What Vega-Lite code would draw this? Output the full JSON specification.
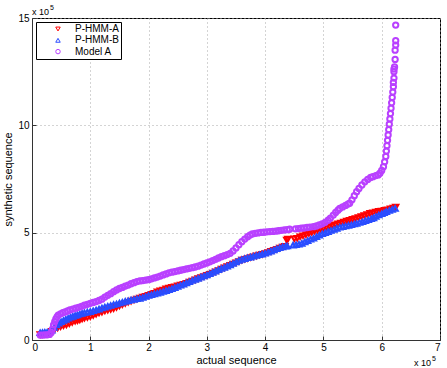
{
  "$schema": "https://vega.github.io/schema/vega-lite/v6.json",
  "width": 408,
  "height": 322,
  "autosize": {"type": "none"},
  "padding": {"left": 32, "top": 18, "right": 7, "bottom": 28},
  "background": "#ffffff",
  "config": {
    "font": "Liberation Sans",
    "view": {"stroke": "#000000", "strokeWidth": 1},
    "axis": {
      "labelFontSize": 10, "labelColor": "#000000", "labelFont": "Liberation Sans",
      "titleFontSize": 11, "titleFontWeight": "normal", "titleColor": "#000000", "titleFont": "Liberation Sans",
      "grid": true, "gridDash": [1, 3], "gridColor": "#a8a8a8", "gridWidth": 1,
      "domainColor": "#333333", "domainWidth": 1, "tickColor": "#333333", "tickSize": -4, "format": "d"
    },
    "legend": {"labelFont": "Liberation Sans"}
  },
  "layer": [
    {
      "data": {"values": [
        {"s":"P-HMM-A","x":0.14,"y":0.25},{"s":"P-HMM-A","x":0.18,"y":0.26},{"s":"P-HMM-A","x":0.22,"y":0.27},{"s":"P-HMM-A","x":0.26,"y":0.28},{"s":"P-HMM-A","x":0.30,"y":0.30},{"s":"P-HMM-A","x":0.34,"y":0.40},{"s":"P-HMM-A","x":0.39,"y":0.50},{"s":"P-HMM-A","x":0.44,"y":0.56},{"s":"P-HMM-A","x":0.49,"y":0.62},{"s":"P-HMM-A","x":0.54,"y":0.66},{"s":"P-HMM-A","x":0.59,"y":0.70},{"s":"P-HMM-A","x":0.64,"y":0.76},{"s":"P-HMM-A","x":0.69,"y":0.82},{"s":"P-HMM-A","x":0.74,"y":0.87},{"s":"P-HMM-A","x":0.78,"y":0.90},{"s":"P-HMM-A","x":0.82,"y":0.93},{"s":"P-HMM-A","x":0.86,"y":0.98},{"s":"P-HMM-A","x":0.90,"y":1.02},{"s":"P-HMM-A","x":0.95,"y":1.05},{"s":"P-HMM-A","x":1.00,"y":1.09},{"s":"P-HMM-A","x":1.05,"y":1.14},{"s":"P-HMM-A","x":1.10,"y":1.20},{"s":"P-HMM-A","x":1.15,"y":1.26},{"s":"P-HMM-A","x":1.20,"y":1.30},{"s":"P-HMM-A","x":1.25,"y":1.35},{"s":"P-HMM-A","x":1.30,"y":1.39},{"s":"P-HMM-A","x":1.35,"y":1.42},{"s":"P-HMM-A","x":1.40,"y":1.46},{"s":"P-HMM-A","x":1.45,"y":1.52},{"s":"P-HMM-A","x":1.50,"y":1.58},{"s":"P-HMM-A","x":1.55,"y":1.64},{"s":"P-HMM-A","x":1.60,"y":1.70},{"s":"P-HMM-A","x":1.65,"y":1.76},{"s":"P-HMM-A","x":1.70,"y":1.81},{"s":"P-HMM-A","x":1.75,"y":1.86},{"s":"P-HMM-A","x":1.80,"y":1.91},{"s":"P-HMM-A","x":1.85,"y":1.96},{"s":"P-HMM-A","x":1.90,"y":2.00},{"s":"P-HMM-A","x":1.95,"y":2.04},{"s":"P-HMM-A","x":2.00,"y":2.08},{"s":"P-HMM-A","x":2.05,"y":2.13},{"s":"P-HMM-A","x":2.10,"y":2.18},{"s":"P-HMM-A","x":2.15,"y":2.24},{"s":"P-HMM-A","x":2.20,"y":2.29},{"s":"P-HMM-A","x":2.25,"y":2.33},{"s":"P-HMM-A","x":2.30,"y":2.38},{"s":"P-HMM-A","x":2.35,"y":2.42},{"s":"P-HMM-A","x":2.40,"y":2.45},{"s":"P-HMM-A","x":2.45,"y":2.48},{"s":"P-HMM-A","x":2.50,"y":2.52},{"s":"P-HMM-A","x":2.55,"y":2.56},{"s":"P-HMM-A","x":2.60,"y":2.60},{"s":"P-HMM-A","x":2.65,"y":2.64},{"s":"P-HMM-A","x":2.70,"y":2.70},{"s":"P-HMM-A","x":2.75,"y":2.75},{"s":"P-HMM-A","x":2.80,"y":2.80},{"s":"P-HMM-A","x":2.85,"y":2.86},{"s":"P-HMM-A","x":2.90,"y":2.91},{"s":"P-HMM-A","x":2.95,"y":2.96},{"s":"P-HMM-A","x":3.00,"y":3.01},{"s":"P-HMM-A","x":3.05,"y":3.06},{"s":"P-HMM-A","x":3.10,"y":3.12},{"s":"P-HMM-A","x":3.15,"y":3.18},{"s":"P-HMM-A","x":3.20,"y":3.24},{"s":"P-HMM-A","x":3.25,"y":3.30},{"s":"P-HMM-A","x":3.30,"y":3.36},{"s":"P-HMM-A","x":3.35,"y":3.42},{"s":"P-HMM-A","x":3.40,"y":3.48},{"s":"P-HMM-A","x":3.45,"y":3.54},{"s":"P-HMM-A","x":3.50,"y":3.60},{"s":"P-HMM-A","x":3.55,"y":3.66},{"s":"P-HMM-A","x":3.60,"y":3.72},{"s":"P-HMM-A","x":3.65,"y":3.76},{"s":"P-HMM-A","x":3.70,"y":3.80},{"s":"P-HMM-A","x":3.75,"y":3.84},{"s":"P-HMM-A","x":3.80,"y":3.88},{"s":"P-HMM-A","x":3.85,"y":3.92},{"s":"P-HMM-A","x":3.90,"y":3.96},{"s":"P-HMM-A","x":3.95,"y":3.99},{"s":"P-HMM-A","x":4.00,"y":4.03},{"s":"P-HMM-A","x":4.05,"y":4.08},{"s":"P-HMM-A","x":4.10,"y":4.13},{"s":"P-HMM-A","x":4.15,"y":4.18},{"s":"P-HMM-A","x":4.20,"y":4.23},{"s":"P-HMM-A","x":4.25,"y":4.28},{"s":"P-HMM-A","x":4.30,"y":4.33},{"s":"P-HMM-A","x":4.34,"y":4.37},{"s":"P-HMM-A","x":4.37,"y":4.66},{"s":"P-HMM-A","x":4.39,"y":4.70},{"s":"P-HMM-A","x":4.50,"y":4.72},{"s":"P-HMM-A","x":4.55,"y":4.74},{"s":"P-HMM-A","x":4.60,"y":4.81},{"s":"P-HMM-A","x":4.65,"y":4.86},{"s":"P-HMM-A","x":4.70,"y":4.91},{"s":"P-HMM-A","x":4.75,"y":4.96},{"s":"P-HMM-A","x":4.80,"y":5.01},{"s":"P-HMM-A","x":4.85,"y":5.07},{"s":"P-HMM-A","x":4.90,"y":5.12},{"s":"P-HMM-A","x":4.95,"y":5.16},{"s":"P-HMM-A","x":5.00,"y":5.20},{"s":"P-HMM-A","x":5.05,"y":5.24},{"s":"P-HMM-A","x":5.10,"y":5.29},{"s":"P-HMM-A","x":5.15,"y":5.33},{"s":"P-HMM-A","x":5.20,"y":5.37},{"s":"P-HMM-A","x":5.25,"y":5.41},{"s":"P-HMM-A","x":5.30,"y":5.45},{"s":"P-HMM-A","x":5.35,"y":5.49},{"s":"P-HMM-A","x":5.40,"y":5.54},{"s":"P-HMM-A","x":5.45,"y":5.58},{"s":"P-HMM-A","x":5.50,"y":5.62},{"s":"P-HMM-A","x":5.55,"y":5.66},{"s":"P-HMM-A","x":5.60,"y":5.70},{"s":"P-HMM-A","x":5.65,"y":5.75},{"s":"P-HMM-A","x":5.70,"y":5.80},{"s":"P-HMM-A","x":5.75,"y":5.85},{"s":"P-HMM-A","x":5.80,"y":5.90},{"s":"P-HMM-A","x":5.85,"y":5.93},{"s":"P-HMM-A","x":5.90,"y":5.96},{"s":"P-HMM-A","x":5.95,"y":5.99},{"s":"P-HMM-A","x":6.00,"y":6.01},{"s":"P-HMM-A","x":6.05,"y":6.04},{"s":"P-HMM-A","x":6.10,"y":6.07},{"s":"P-HMM-A","x":6.15,"y":6.11},{"s":"P-HMM-A","x":6.20,"y":6.15},{"s":"P-HMM-A","x":6.24,"y":6.19},
        {"s":"P-HMM-B","x":0.14,"y":0.34},{"s":"P-HMM-B","x":0.18,"y":0.35},{"s":"P-HMM-B","x":0.22,"y":0.36},{"s":"P-HMM-B","x":0.26,"y":0.36},{"s":"P-HMM-B","x":0.30,"y":0.37},{"s":"P-HMM-B","x":0.34,"y":0.46},{"s":"P-HMM-B","x":0.38,"y":0.58},{"s":"P-HMM-B","x":0.42,"y":0.70},{"s":"P-HMM-B","x":0.46,"y":0.78},{"s":"P-HMM-B","x":0.50,"y":0.85},{"s":"P-HMM-B","x":0.54,"y":0.91},{"s":"P-HMM-B","x":0.58,"y":0.96},{"s":"P-HMM-B","x":0.62,"y":1.01},{"s":"P-HMM-B","x":0.66,"y":1.06},{"s":"P-HMM-B","x":0.70,"y":1.10},{"s":"P-HMM-B","x":0.74,"y":1.14},{"s":"P-HMM-B","x":0.78,"y":1.17},{"s":"P-HMM-B","x":0.82,"y":1.21},{"s":"P-HMM-B","x":0.86,"y":1.24},{"s":"P-HMM-B","x":0.90,"y":1.27},{"s":"P-HMM-B","x":0.95,"y":1.30},{"s":"P-HMM-B","x":1.00,"y":1.32},{"s":"P-HMM-B","x":1.05,"y":1.36},{"s":"P-HMM-B","x":1.10,"y":1.40},{"s":"P-HMM-B","x":1.15,"y":1.44},{"s":"P-HMM-B","x":1.20,"y":1.49},{"s":"P-HMM-B","x":1.25,"y":1.53},{"s":"P-HMM-B","x":1.30,"y":1.57},{"s":"P-HMM-B","x":1.35,"y":1.61},{"s":"P-HMM-B","x":1.40,"y":1.65},{"s":"P-HMM-B","x":1.45,"y":1.68},{"s":"P-HMM-B","x":1.50,"y":1.72},{"s":"P-HMM-B","x":1.55,"y":1.76},{"s":"P-HMM-B","x":1.60,"y":1.80},{"s":"P-HMM-B","x":1.65,"y":1.83},{"s":"P-HMM-B","x":1.70,"y":1.86},{"s":"P-HMM-B","x":1.75,"y":1.89},{"s":"P-HMM-B","x":1.80,"y":1.92},{"s":"P-HMM-B","x":1.85,"y":1.94},{"s":"P-HMM-B","x":1.90,"y":1.98},{"s":"P-HMM-B","x":1.95,"y":2.03},{"s":"P-HMM-B","x":2.00,"y":2.08},{"s":"P-HMM-B","x":2.05,"y":2.11},{"s":"P-HMM-B","x":2.10,"y":2.15},{"s":"P-HMM-B","x":2.15,"y":2.18},{"s":"P-HMM-B","x":2.20,"y":2.22},{"s":"P-HMM-B","x":2.25,"y":2.26},{"s":"P-HMM-B","x":2.30,"y":2.30},{"s":"P-HMM-B","x":2.35,"y":2.34},{"s":"P-HMM-B","x":2.40,"y":2.39},{"s":"P-HMM-B","x":2.45,"y":2.44},{"s":"P-HMM-B","x":2.50,"y":2.49},{"s":"P-HMM-B","x":2.55,"y":2.55},{"s":"P-HMM-B","x":2.60,"y":2.60},{"s":"P-HMM-B","x":2.65,"y":2.66},{"s":"P-HMM-B","x":2.70,"y":2.71},{"s":"P-HMM-B","x":2.75,"y":2.77},{"s":"P-HMM-B","x":2.80,"y":2.82},{"s":"P-HMM-B","x":2.85,"y":2.87},{"s":"P-HMM-B","x":2.90,"y":2.93},{"s":"P-HMM-B","x":2.95,"y":2.98},{"s":"P-HMM-B","x":3.00,"y":3.03},{"s":"P-HMM-B","x":3.05,"y":3.09},{"s":"P-HMM-B","x":3.10,"y":3.15},{"s":"P-HMM-B","x":3.15,"y":3.21},{"s":"P-HMM-B","x":3.20,"y":3.27},{"s":"P-HMM-B","x":3.25,"y":3.33},{"s":"P-HMM-B","x":3.30,"y":3.38},{"s":"P-HMM-B","x":3.35,"y":3.44},{"s":"P-HMM-B","x":3.40,"y":3.50},{"s":"P-HMM-B","x":3.45,"y":3.56},{"s":"P-HMM-B","x":3.50,"y":3.63},{"s":"P-HMM-B","x":3.55,"y":3.70},{"s":"P-HMM-B","x":3.60,"y":3.75},{"s":"P-HMM-B","x":3.65,"y":3.79},{"s":"P-HMM-B","x":3.70,"y":3.83},{"s":"P-HMM-B","x":3.75,"y":3.86},{"s":"P-HMM-B","x":3.80,"y":3.90},{"s":"P-HMM-B","x":3.85,"y":3.94},{"s":"P-HMM-B","x":3.90,"y":3.97},{"s":"P-HMM-B","x":3.95,"y":4.00},{"s":"P-HMM-B","x":4.00,"y":4.04},{"s":"P-HMM-B","x":4.05,"y":4.09},{"s":"P-HMM-B","x":4.10,"y":4.14},{"s":"P-HMM-B","x":4.15,"y":4.19},{"s":"P-HMM-B","x":4.20,"y":4.25},{"s":"P-HMM-B","x":4.25,"y":4.30},{"s":"P-HMM-B","x":4.30,"y":4.34},{"s":"P-HMM-B","x":4.35,"y":4.37},{"s":"P-HMM-B","x":4.38,"y":4.38},{"s":"P-HMM-B","x":4.48,"y":4.42},{"s":"P-HMM-B","x":4.53,"y":4.44},{"s":"P-HMM-B","x":4.58,"y":4.46},{"s":"P-HMM-B","x":4.63,"y":4.50},{"s":"P-HMM-B","x":4.68,"y":4.57},{"s":"P-HMM-B","x":4.73,"y":4.63},{"s":"P-HMM-B","x":4.78,"y":4.69},{"s":"P-HMM-B","x":4.83,"y":4.74},{"s":"P-HMM-B","x":4.88,"y":4.81},{"s":"P-HMM-B","x":4.93,"y":4.88},{"s":"P-HMM-B","x":4.98,"y":4.95},{"s":"P-HMM-B","x":5.03,"y":5.00},{"s":"P-HMM-B","x":5.08,"y":5.05},{"s":"P-HMM-B","x":5.13,"y":5.10},{"s":"P-HMM-B","x":5.18,"y":5.15},{"s":"P-HMM-B","x":5.23,"y":5.20},{"s":"P-HMM-B","x":5.28,"y":5.25},{"s":"P-HMM-B","x":5.33,"y":5.28},{"s":"P-HMM-B","x":5.38,"y":5.31},{"s":"P-HMM-B","x":5.43,"y":5.34},{"s":"P-HMM-B","x":5.48,"y":5.37},{"s":"P-HMM-B","x":5.53,"y":5.40},{"s":"P-HMM-B","x":5.57,"y":5.43},{"s":"P-HMM-B","x":5.62,"y":5.47},{"s":"P-HMM-B","x":5.67,"y":5.51},{"s":"P-HMM-B","x":5.72,"y":5.56},{"s":"P-HMM-B","x":5.77,"y":5.60},{"s":"P-HMM-B","x":5.82,"y":5.65},{"s":"P-HMM-B","x":5.86,"y":5.69},{"s":"P-HMM-B","x":5.90,"y":5.75},{"s":"P-HMM-B","x":5.95,"y":5.82},{"s":"P-HMM-B","x":6.00,"y":5.88},{"s":"P-HMM-B","x":6.04,"y":5.93},{"s":"P-HMM-B","x":6.08,"y":5.98},{"s":"P-HMM-B","x":6.13,"y":6.03},{"s":"P-HMM-B","x":6.18,"y":6.08},{"s":"P-HMM-B","x":6.23,"y":6.13},
        {"s":"Model A","x":0.14,"y":0.23},{"s":"Model A","x":0.18,"y":0.23},{"s":"Model A","x":0.22,"y":0.24},{"s":"Model A","x":0.26,"y":0.24},{"s":"Model A","x":0.30,"y":0.26},{"s":"Model A","x":0.33,"y":0.35},{"s":"Model A","x":0.35,"y":0.50},{"s":"Model A","x":0.37,"y":0.70},{"s":"Model A","x":0.39,"y":0.85},{"s":"Model A","x":0.41,"y":0.98},{"s":"Model A","x":0.43,"y":1.08},{"s":"Model A","x":0.45,"y":1.16},{"s":"Model A","x":0.49,"y":1.22},{"s":"Model A","x":0.53,"y":1.27},{"s":"Model A","x":0.57,"y":1.31},{"s":"Model A","x":0.61,"y":1.35},{"s":"Model A","x":0.65,"y":1.40},{"s":"Model A","x":0.70,"y":1.44},{"s":"Model A","x":0.75,"y":1.48},{"s":"Model A","x":0.80,"y":1.52},{"s":"Model A","x":0.85,"y":1.57},{"s":"Model A","x":0.90,"y":1.62},{"s":"Model A","x":0.95,"y":1.66},{"s":"Model A","x":1.00,"y":1.71},{"s":"Model A","x":1.05,"y":1.75},{"s":"Model A","x":1.10,"y":1.79},{"s":"Model A","x":1.15,"y":1.84},{"s":"Model A","x":1.20,"y":1.90},{"s":"Model A","x":1.25,"y":2.00},{"s":"Model A","x":1.30,"y":2.08},{"s":"Model A","x":1.35,"y":2.16},{"s":"Model A","x":1.40,"y":2.25},{"s":"Model A","x":1.45,"y":2.33},{"s":"Model A","x":1.50,"y":2.40},{"s":"Model A","x":1.55,"y":2.45},{"s":"Model A","x":1.60,"y":2.51},{"s":"Model A","x":1.65,"y":2.56},{"s":"Model A","x":1.70,"y":2.62},{"s":"Model A","x":1.75,"y":2.67},{"s":"Model A","x":1.80,"y":2.72},{"s":"Model A","x":1.85,"y":2.75},{"s":"Model A","x":1.90,"y":2.77},{"s":"Model A","x":1.95,"y":2.79},{"s":"Model A","x":2.00,"y":2.81},{"s":"Model A","x":2.05,"y":2.85},{"s":"Model A","x":2.10,"y":2.89},{"s":"Model A","x":2.15,"y":2.93},{"s":"Model A","x":2.20,"y":2.98},{"s":"Model A","x":2.25,"y":3.03},{"s":"Model A","x":2.30,"y":3.08},{"s":"Model A","x":2.35,"y":3.13},{"s":"Model A","x":2.40,"y":3.16},{"s":"Model A","x":2.45,"y":3.19},{"s":"Model A","x":2.50,"y":3.22},{"s":"Model A","x":2.55,"y":3.25},{"s":"Model A","x":2.60,"y":3.28},{"s":"Model A","x":2.65,"y":3.31},{"s":"Model A","x":2.70,"y":3.34},{"s":"Model A","x":2.75,"y":3.37},{"s":"Model A","x":2.80,"y":3.40},{"s":"Model A","x":2.85,"y":3.44},{"s":"Model A","x":2.90,"y":3.49},{"s":"Model A","x":2.95,"y":3.54},{"s":"Model A","x":3.00,"y":3.59},{"s":"Model A","x":3.05,"y":3.64},{"s":"Model A","x":3.10,"y":3.70},{"s":"Model A","x":3.15,"y":3.76},{"s":"Model A","x":3.20,"y":3.82},{"s":"Model A","x":3.25,"y":3.88},{"s":"Model A","x":3.30,"y":3.93},{"s":"Model A","x":3.35,"y":3.98},{"s":"Model A","x":3.40,"y":4.04},{"s":"Model A","x":3.45,"y":4.15},{"s":"Model A","x":3.50,"y":4.29},{"s":"Model A","x":3.55,"y":4.44},{"s":"Model A","x":3.60,"y":4.58},{"s":"Model A","x":3.65,"y":4.70},{"s":"Model A","x":3.70,"y":4.81},{"s":"Model A","x":3.74,"y":4.89},{"s":"Model A","x":3.78,"y":4.94},{"s":"Model A","x":3.83,"y":4.97},{"s":"Model A","x":3.88,"y":4.99},{"s":"Model A","x":3.93,"y":5.01},{"s":"Model A","x":3.98,"y":5.02},{"s":"Model A","x":4.03,"y":5.04},{"s":"Model A","x":4.08,"y":5.05},{"s":"Model A","x":4.13,"y":5.06},{"s":"Model A","x":4.18,"y":5.07},{"s":"Model A","x":4.23,"y":5.09},{"s":"Model A","x":4.28,"y":5.11},{"s":"Model A","x":4.33,"y":5.13},{"s":"Model A","x":4.38,"y":5.14},{"s":"Model A","x":4.42,"y":5.16},{"s":"Model A","x":4.52,"y":5.18},{"s":"Model A","x":4.57,"y":5.19},{"s":"Model A","x":4.62,"y":5.21},{"s":"Model A","x":4.67,"y":5.22},{"s":"Model A","x":4.72,"y":5.24},{"s":"Model A","x":4.77,"y":5.26},{"s":"Model A","x":4.83,"y":5.28},{"s":"Model A","x":4.88,"y":5.31},{"s":"Model A","x":4.93,"y":5.36},{"s":"Model A","x":4.98,"y":5.41},{"s":"Model A","x":5.03,"y":5.48},{"s":"Model A","x":5.08,"y":5.58},{"s":"Model A","x":5.12,"y":5.68},{"s":"Model A","x":5.17,"y":5.82},{"s":"Model A","x":5.21,"y":5.94},{"s":"Model A","x":5.25,"y":6.05},{"s":"Model A","x":5.28,"y":6.13},{"s":"Model A","x":5.33,"y":6.20},{"s":"Model A","x":5.38,"y":6.27},{"s":"Model A","x":5.42,"y":6.33},{"s":"Model A","x":5.45,"y":6.37},{"s":"Model A","x":5.49,"y":6.53},{"s":"Model A","x":5.53,"y":6.72},{"s":"Model A","x":5.57,"y":6.91},{"s":"Model A","x":5.61,"y":7.06},{"s":"Model A","x":5.66,"y":7.22},{"s":"Model A","x":5.71,"y":7.37},{"s":"Model A","x":5.76,"y":7.48},{"s":"Model A","x":5.81,"y":7.57},{"s":"Model A","x":5.85,"y":7.61},{"s":"Model A","x":5.90,"y":7.66},{"s":"Model A","x":5.94,"y":7.69},{"s":"Model A","x":5.97,"y":7.77},{"s":"Model A","x":6.00,"y":7.90},{"s":"Model A","x":6.03,"y":8.07},{"s":"Model A","x":6.05,"y":8.30},{"s":"Model A","x":6.07,"y":8.55},{"s":"Model A","x":6.08,"y":8.80},{"s":"Model A","x":6.09,"y":9.05},{"s":"Model A","x":6.10,"y":9.30},{"s":"Model A","x":6.11,"y":9.55},{"s":"Model A","x":6.12,"y":9.80},{"s":"Model A","x":6.13,"y":10.05},{"s":"Model A","x":6.14,"y":10.30},{"s":"Model A","x":6.15,"y":10.55},{"s":"Model A","x":6.16,"y":10.80},{"s":"Model A","x":6.17,"y":11.05},{"s":"Model A","x":6.18,"y":11.30},{"s":"Model A","x":6.19,"y":11.55},{"s":"Model A","x":6.20,"y":11.80},{"s":"Model A","x":6.20,"y":12.00},{"s":"Model A","x":6.21,"y":12.20},{"s":"Model A","x":6.21,"y":12.50},{"s":"Model A","x":6.21,"y":12.62},{"s":"Model A","x":6.22,"y":12.72},{"s":"Model A","x":6.23,"y":13.07},{"s":"Model A","x":6.23,"y":13.50},{"s":"Model A","x":6.24,"y":13.74},{"s":"Model A","x":6.24,"y":13.94},{"s":"Model A","x":6.24,"y":14.67}
      ]},
      "mark": {"type": "point", "filled": false, "size": 28, "strokeWidth": 2, "opacity": 1},
      "encoding": {
        "x": {"field": "x", "type": "quantitative", "scale": {"domain": [0, 7], "nice": false, "zero": false},
              "axis": {"values": [0,1,2,3,4,5,6,7], "title": "actual sequence", "labelPadding": 6, "titlePadding": 2}},
        "y": {"field": "y", "type": "quantitative", "scale": {"domain": [0, 15], "nice": false, "zero": false},
              "axis": {"values": [0,5,10,15], "title": "synthetic sequence", "labelPadding": 7, "titlePadding": 4}},
        "color": {"field": "s", "type": "nominal",
                  "scale": {"domain": ["P-HMM-A", "P-HMM-B", "Model A"], "range": ["#ff0000", "#2a4dff", "#b940ff"]},
                  "legend": {"title": null, "orient": "none", "legendX": 4, "legendY": 4, "direction": "vertical",
                             "strokeColor": "#000000", "fillColor": "#ffffff", "padding": 2, "rowPadding": 1.3,
                             "labelFontSize": 10, "labelColor": "#000000", "symbolSize": 20, "symbolStrokeWidth": 1,
                             "symbolOffset": 15, "labelOffset": 12, "cornerRadius": 0}},
        "shape": {"field": "s", "type": "nominal",
                  "scale": {"domain": ["P-HMM-A", "P-HMM-B", "Model A"], "range": ["triangle-down", "triangle-up", "circle"]}}
      }
    },
    {
      "data": {"values": [{}]},
      "mark": {"type": "text", "text": "x 10", "fontSize": 9, "align": "left", "baseline": "middle", "dx": 0, "dy": -6, "color": "#000000"},
      "encoding": {"x": {"datum": 0}, "y": {"datum": 15}}
    },
    {
      "data": {"values": [{}]},
      "mark": {"type": "text", "text": "5", "fontSize": 7, "align": "left", "baseline": "middle", "dx": 18, "dy": -10, "color": "#000000"},
      "encoding": {"x": {"datum": 0}, "y": {"datum": 15}}
    },
    {
      "data": {"values": [{}]},
      "mark": {"type": "text", "text": "x 10", "fontSize": 9, "align": "right", "baseline": "middle", "dx": -9, "dy": 23, "color": "#000000"},
      "encoding": {"x": {"datum": 7}, "y": {"datum": 0}}
    },
    {
      "data": {"values": [{}]},
      "mark": {"type": "text", "text": "5", "fontSize": 7, "align": "left", "baseline": "middle", "dx": -8, "dy": 19, "color": "#000000"},
      "encoding": {"x": {"datum": 7}, "y": {"datum": 0}}
    }
  ]
}
